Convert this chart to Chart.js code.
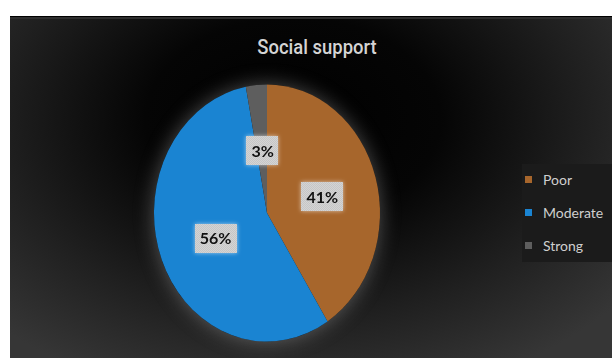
<!DOCTYPE html>
<html>
<head>
<meta charset="utf-8">
<script src="https://cdn.jsdelivr.net/npm/chart.js@4"></script>
<style>
  html, body { margin:0; padding:0; background:#fff; width:612px; height:358px; overflow:hidden; }
  #panel { position:absolute; left:10px; top:16px; width:602px; height:342px;
    background: radial-gradient(ellipse 70% 85% at 47% 30%, #000 0%, #050505 35%, #202020 70%, #363636 100%);
    border-top:1px solid #000; box-sizing:border-box; box-shadow: inset 0 2px 0 #2e2e2e; }
  #title { position:absolute; left:16px; width:602px; top:35px; text-align:center;
    font-family:Roboto,"Liberation Sans",Arial,sans-serif; font-weight:500; font-size:20.5px; color:#d4d4d4;
    transform:scaleX(0.9); transform-origin:301px 0; }
  #legend { position:absolute; left:522px; top:164px; width:90px; height:98px; background:#1b1b1b; }
  .li { position:absolute; left:0; font-family:Lato,"Liberation Sans",sans-serif; font-size:14px; color:#cfcfcf; height:18px; line-height:18px; }
  .sw { position:absolute; left:3px; top:5px; width:7px; height:7px; }
  .lt { position:absolute; left:21px; top:0; white-space:nowrap; }
  canvas { position:absolute; left:0; top:0; }
</style>
</head>
<body>
<div id="panel"></div>
<div id="title"></div>
<div id="legend"></div>
<canvas id="c" width="612" height="358"></canvas>
<script>
const chartTitle = "Social support";
const categories = ["Poor", "Moderate", "Strong"];
const values = [41, 56, 3];
const colors = ["#a7662c", "#1a84d2", "#5e5e5e"];

document.getElementById('title').textContent = chartTitle;
const legend = document.getElementById('legend');
const legendTops = [7, 40, 73];
categories.forEach((c, i) => {
  const d = document.createElement('div');
  d.className = 'li';
  d.style.top = legendTops[i] + 'px';
  d.innerHTML = '<span class="sw" style="background:' + colors[i] + '"></span><span class="lt"></span>';
  d.querySelector('.lt').textContent = c;
  legend.appendChild(d);
});

const K = 1.137; // vertical stretch of the pie (ellipse in reference)

// dotted texture for label boxes
const pat = document.createElement('canvas');
pat.width = 2; pat.height = 2;
const pc = pat.getContext('2d');
pc.fillStyle = '#d4d4d4'; pc.fillRect(0,0,2,2);
pc.fillStyle = '#c6c6c6'; pc.fillRect(0,0,1,1); pc.fillRect(1,1,1,1);

const stretch = {
  id: 'stretch',
  beforeDatasetsDraw(chart) {
    const ctx = chart.ctx;
    const arc = chart.getDatasetMeta(0).data[0];
    const cx = arc.x, cy = arc.y, r = arc.outerRadius;
    ctx.save();
    ctx.translate(cx, cy);
    ctx.scale(1, K);
    ctx.translate(-cx, -cy);
    ctx.save();
    ctx.shadowColor = 'rgba(190,190,190,0.4)';
    ctx.shadowBlur = 20;
    ctx.fillStyle = '#111';
    ctx.beginPath();
    ctx.arc(cx, cy, r, 0, Math.PI * 2);
    ctx.fill();
    ctx.restore();
  },
  afterDatasetsDraw(chart) {
    const ctx = chart.ctx;
    ctx.restore();
    const meta = chart.getDatasetMeta(0);
    ctx.save();
    ctx.font = 'bold 16px Lato, "Liberation Sans", sans-serif';
    ctx.textAlign = 'center';
    ctx.textBaseline = 'middle';
    meta.data.forEach((a, i) => {
      const mid = (a.startAngle + a.endAngle) / 2;
      const rr = a.outerRadius * 0.5;
      const px = a.x + Math.cos(mid) * rr + 1;
      const py = a.y + Math.sin(mid) * rr * K + 1.5;
      const txt = values[i] + '%';
      const w = ctx.measureText(txt).width + 10;
      const h = 29;
      ctx.save();
      ctx.shadowColor = 'rgba(255,255,255,0.6)';
      ctx.shadowBlur = 4;
      ctx.fillStyle = ctx.createPattern(pat, 'repeat');
      ctx.fillRect(Math.round(px - w / 2), Math.round(py - h / 2), Math.round(w), h);
      ctx.restore();
      ctx.fillStyle = '#111';
      ctx.fillText(txt, px, py + 1);
    });
    ctx.restore();
  }
};

new Chart(document.getElementById('c'), {
  type: 'pie',
  data: {
    labels: categories,
    datasets: [{ data: values, backgroundColor: colors, borderWidth: 0 }]
  },
  options: {
    responsive: false,
    animation: false,
    layout: { padding: { left: 154, right: 232, top: 100, bottom: 32 } },
    plugins: { legend: { display: false }, tooltip: { enabled: false }, title: { display: false } }
  },
  plugins: [stretch]
});
</script>
</body>
</html>
